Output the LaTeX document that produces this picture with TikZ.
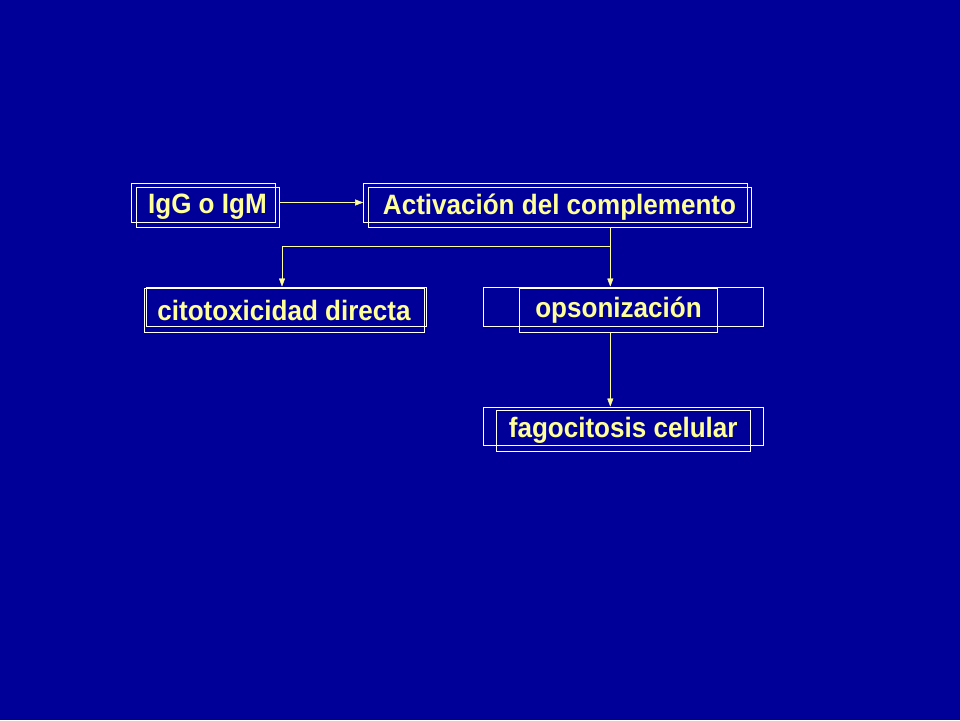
\documentclass[tikz,border=0pt]{standalone}
\usepackage{fontspec}
\setmainfont{Liberation Sans}
\newfontfamily\slidefont[FakeStretch=0.93]{Liberation Sans}
\usetikzlibrary{arrows.meta}
\definecolor{slideblue}{HTML}{000099}
\definecolor{slideyellow}{HTML}{FFFF99}

\tikzset{frame/.style={rectangle, draw=white, thin, inner sep=0pt},
  txt/.style={rectangle, draw=white, thin, inner sep=0pt, text=slideyellow, font=\slidefont\bfseries\fontsize{28}{32}\selectfont},
  link/.style={draw=slideyellow, thin, -{Triangle[length=8pt,width=6pt]}}}

\begin{document}
\begin{tikzpicture}[x=1pt,y=-1pt]
\fill[slideblue] (0,0) rectangle (960,720);

% frames behind the text boxes
\node[frame, minimum width=143.5, minimum height=39] (FrameIg) at (203.2,202.5) {};
\node[frame, minimum width=383.7, minimum height=39] (FrameAct) at (555.2,202.5) {};
\node[frame, minimum width=280, minimum height=39] (FrameCito) at (286.5,306.2) {};
\node[frame, minimum width=280, minimum height=39] (FrameOpso) at (622.8,306.2) {};
\node[frame, minimum width=280, minimum height=38.6] (FrameFago) at (622.8,426) {};

% text boxes
\node[txt, minimum width=142.7, minimum height=40] (Ig) at (207.4,207) {IgG o IgM};
\node[txt, minimum width=383, minimum height=40] (Act) at (559.5,207) {Activación del complemento};
\node[txt, minimum width=280, minimum height=43.4] (Cito) at (284,310) {citotoxicidad directa};
\node[txt, minimum width=198.2, minimum height=43.4] (Opso) at (618.5,310) {opsonización};
\node[txt, minimum width=254.7, minimum height=40.3] (Fago) at (623.2,430.8) {fagocitosis celular};

\coordinate (Split) at (610.3,245.7);
\coordinate (CitoTop) at (282,245.7);

\draw[link] (Ig.east |- FrameIg.center) -- (FrameAct.west |- FrameIg.center);
\draw[link] (Split |- Act.south) -- (Split) -- (Split |- FrameOpso.north);
\draw[link] (Split) -- (CitoTop) -- (CitoTop |- FrameCito.north);
\draw[link] (Split |- Opso.south) -- (Split |- FrameFago.north);
\end{tikzpicture}
\end{document}
